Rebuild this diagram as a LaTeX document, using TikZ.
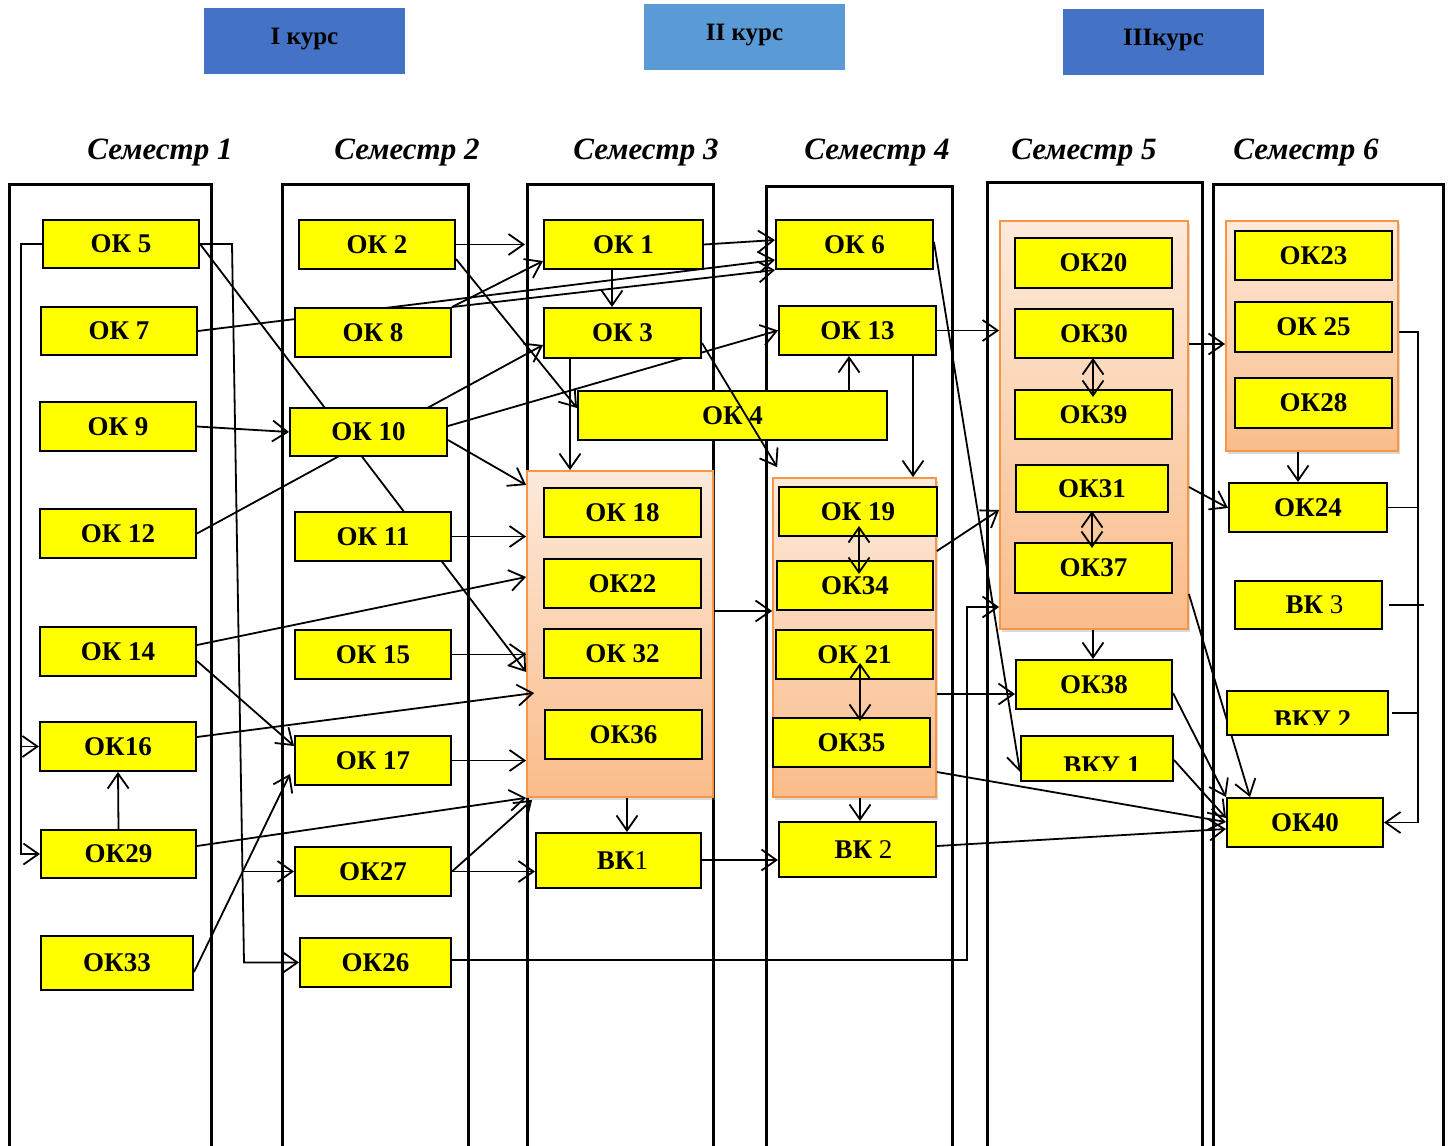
\documentclass[tikz,border=0pt]{standalone}
\usepackage{fontspec}
\setmainfont{Liberation Serif}
\usetikzlibrary{arrows.meta,calc,shadows}
\pgfdeclarelayer{bg}\pgfdeclarelayer{edges}\pgfdeclarelayer{fg}
\pgfsetlayers{bg,edges,main,fg}
\definecolor{yel}{RGB}{255,255,0}
\definecolor{blueA}{RGB}{68,114,196}
\definecolor{blueB}{RGB}{91,155,213}
\definecolor{orB}{RGB}{247,150,70}
\definecolor{orT}{RGB}{253,234,218}
\definecolor{orD}{RGB}{250,188,138}
\tikzset{
  ybox/.style={draw=black, line width=2pt, fill=yel, inner sep=0pt, text=black,
    font=\bfseries\fontsize{27}{29}\selectfont},
  grp/.style={draw=orB, line width=1.8pt, top color=orT, bottom color=orD, inner sep=0pt,
    drop shadow={shadow xshift=2pt, shadow yshift=-3pt, opacity=0.3}},
  kurs/.style={fill=#1, draw=none, inner sep=0pt, text=black,
    font=\bfseries\fontsize{25}{28}\selectfont},
  sem/.style={inner sep=0pt, anchor=base, font=\bfseries\itshape\fontsize{31}{34}\selectfont},
  colline/.style={line width=3pt, line join=miter},
  arr/.style={line width=1.8pt, -{Straight Barb[length=15pt,width=21pt]}},
  darr/.style={line width=1.8pt, {Straight Barb[length=15pt,width=21pt]}-{Straight Barb[length=15pt,width=21pt]}},
  plain/.style={line width=1.8pt}
}
\newcommand\ybx[6]{\node[ybox, minimum width={(#4-#2)*1pt}, minimum height={(#5-#3)*1pt}] (#1) at ({(#2+#4)/2},{(#3+#5)/2}) {#6};}
\newcommand\grpbox[5]{\node[grp, minimum width={(#4-#2)*1pt}, minimum height={(#5-#3)*1pt}] (#1) at ({(#2+#4)/2},{(#3+#5)/2}) {};}
\newcommand\clipbx[6]{\node[ybox, minimum width={(#4-#2)*1pt}, minimum height={(#5-#3)*1pt},
  path picture={\clip (path picture bounding box.north west) rectangle ([yshift=11pt]path picture bounding box.south east);
    \node[draw=none, fill=none, inner sep=0pt, minimum width=0pt, minimum height=0pt, text=black,
      font=\bfseries\fontsize{27}{29}\selectfont] at ([xshift=5pt,yshift=-7pt]path picture bounding box.center) {#6};}]
  (#1) at ({(#2+#4)/2},{(#3+#5)/2}) {};}
\begin{document}
\begin{tikzpicture}[x=1pt,y=-1pt]
\useasboundingbox (0,0) rectangle (1452,1146);
% columns and groups
\begin{pgfonlayer}{bg}
\draw[colline] (9,1146) |- (211,184) -- (211,1146);
\draw[colline] (282,1146) |- (468,184) -- (468,1146);
\draw[colline] (527,1146) |- (713,184) -- (713,1146);
\draw[colline] (766,1146) |- (952,186) -- (952,1146);
\draw[colline] (987,1146) |- (1202,182) -- (1202,1146);
\draw[colline] (1213,1146) |- (1443,184) -- (1443,1146);
\grpbox{g3}{527}{471}{713}{797}
\grpbox{g4}{773}{478}{936}{797}
\grpbox{g5}{1000}{221}{1188}{629}
\grpbox{g6}{1226}{221}{1398}{451}
\end{pgfonlayer}
% course boxes
\node[kurs=blueA, minimum width=201pt, minimum height=66pt] (k1) at (304.5,41) {\raisebox{10pt}{I курс}};
\node[kurs=blueB, minimum width=201pt, minimum height=66pt] (k2) at (744.5,37) {\raisebox{10pt}{II курс}};
\node[kurs=blueA, minimum width=201pt, minimum height=66pt] (k3) at (1163.5,42) {\raisebox{10pt}{IIIкурс}};
% semesters
\node[sem] (s1) at (160,159) {Семестр 1};
\node[sem] (s2) at (407,159) {Семестр 2};
\node[sem] (s3) at (646,159) {Семестр 3};
\node[sem] (s4) at (877,159) {Семестр 4};
\node[sem] (s5) at (1084,159) {Семестр 5};
\node[sem] (s6) at (1306,159) {Семестр 6};
% column 1
\ybx{ok5}{43}{220}{199}{268}{ОК 5}
\ybx{ok7}{41}{307}{197}{355}{ОК 7}
\ybx{ok9}{40}{402}{196}{451}{ОК 9}
\ybx{ok12}{40}{509}{196}{558}{ОК 12}
\ybx{ok14}{40}{627}{196}{676}{ОК 14}
\ybx{ok16}{40}{722}{196}{771}{ОК16}
\ybx{ok29}{41}{830}{196}{878}{ОК29}
\ybx{ok33}{41}{936}{193}{990}{ОК33}
% column 2
\ybx{ok2}{299}{220}{455}{269}{ОК 2}
\ybx{ok8}{295}{308}{451}{357}{ОК 8}
\ybx{ok10}{290}{408}{447}{456}{ОК 10}
\ybx{ok11}{295}{512}{451}{561}{ОК 11}
\ybx{ok15}{295}{630}{451}{679}{ОК 15}
\ybx{ok17}{295}{736}{451}{785}{ОК 17}
\ybx{ok27}{295}{847}{451}{896}{ОК27}
\ybx{ok26}{300}{938}{451}{987}{ОК26}
% column 3
\ybx{ok1}{544}{220}{703}{269}{ОК 1}
\ybx{ok3}{544}{308}{701}{358}{ОК 3}
\ybx{ok4}{578}{391}{887}{440}{ОК 4}
\ybx{ok18}{544}{488}{701}{537}{ОК 18}
\ybx{ok22}{544}{559}{701}{608}{ОК22}
\ybx{ok32}{544}{629}{701}{678}{ОК 32}
\ybx{ok36}{545}{710}{702}{759}{ОК36}
\ybx{vk1}{536}{833}{701}{888}{\hspace*{8pt}ВК\textmd{1}}
% column 4
\ybx{ok6}{776}{220}{933}{269}{ОК 6}
\ybx{ok13}{779}{306}{936}{355}{ОК 13}
\ybx{ok19}{779}{487}{937}{536}{ОК 19}
\ybx{ok34}{777}{561}{933}{610}{ОК34}
\ybx{ok21}{776}{630}{933}{679}{ОК 21}
\ybx{ok35}{773}{718}{930}{767}{ОК35}
\ybx{vk2}{779}{822}{936}{877}{\hspace*{12pt}ВК \textmd{2}}
% column 5
\ybx{ok20}{1015}{238}{1172}{288}{ОК20}
\ybx{ok30}{1015}{309}{1173}{358}{ОК30}
\ybx{ok39}{1015}{390}{1172}{439}{ОК39}
\ybx{ok31}{1016}{465}{1168}{512}{ОК31}
\ybx{ok37}{1015}{543}{1172}{593}{ОК37}
\ybx{ok38}{1016}{660}{1172}{709}{ОК38}
\clipbx{vku1}{1021}{736}{1173}{781}{ВКУ 1}
% column 6
\ybx{ok23}{1235}{231}{1392}{280}{ОК23}
\ybx{ok25}{1235}{302}{1392}{352}{ОК 25}
\ybx{ok28}{1235}{378}{1392}{428}{ОК28}
\ybx{ok24}{1229}{483}{1387}{532}{ОК24}
\ybx{vk3}{1235}{581}{1382}{629}{\hspace*{12pt}ВК \textmd{3}}
\clipbx{vku2}{1227}{691}{1388}{735}{ВКУ 2}
\ybx{ok40}{1227}{798}{1383}{847}{ОК40}
% connectors behind boxes
\begin{pgfonlayer}{edges}
\draw[arr] (ok5.west) -- ++(-21,0) coordinate (b1) |- (ok29.west);
\draw[arr] (b1 |- ok16.west) -- (ok16.west);
\draw[arr] (ok5.east) -- (232,0 |- ok5.east) -- (244,0 |- ok26.west) -- (ok26.west);
\draw[arr] (243,0 |- ok27.west) -- (ok27.west);
\draw[arr] (ok5.east) -- (g3.west |- 0,672);
\draw[arr] (ok7.east) -- (ok6.west |- 0,260);
\draw[arr] (ok8.north east) -- (ok6.south west);
\draw[arr] (ok8.north east) -- (ok1.west |- 0,261);
\draw[arr] (ok9.east) -- (ok10.west);
\draw[arr] (ok12.east) -- (ok3.west |- 0,345);
\draw[arr] (ok10.east |- 0,426) -- (ok13.west);
\draw[arr] (ok10.east |- 0,440) -- (g3.west |- 0,485);
\draw[arr] (ok11.east) -- (g3.west |- ok11.east);
\draw[arr] (ok14.east |- 0,645) -- (g3.west |- 0,577);
\draw[arr] (ok14.east |- 0,661) -- (ok17.west |- 0,746);
\draw[arr] (ok15.east) -- (g3.west |- ok15.east);
\draw[arr] (ok16.east |- 0,737) -- ($(g3.west |- 0,693)+(8,0)$);
\draw[arr] (ok17.east) -- (g3.west |- ok17.east);
\draw[arr] (ok29.north) -- (ok16.south);
\draw[arr] (ok29.east |- 0,846) -- (g3.south west);
\draw[arr] (ok33.east |- 0,972) -- ($(ok17.west |- 0,774)+(-4,0)$);
\draw[arr] (ok27.east) -- ($(g3.south west)+(6,2)$);
\draw[arr] (ok27.east) -- (vk1.west |- ok27.east);
\draw[arr] (ok26.east |- 0,960) -| (967,607) -- (g5.west |- 0,607);
\draw[arr] (ok2.east) -- ($(ok1.west)+(-18,0)$);
\draw[arr] (ok2.east |- 0,259) -- (ok4.west |- 0,408);
\draw[arr] (ok1.east) -- (ok6.west |- 0,240);
\draw[arr] (612,0 |- ok1.south) -- (612,0 |- ok3.north);
\draw[arr] (570,0 |- ok3.south) -- (570,0 |- g3.north);
\draw[arr] (849,0 |- ok4.north) -- (849,0 |- ok13.south);
\draw[arr] (913,0 |- ok13.south) -- (913,0 |- g4.north);
\draw[arr] (ok13.east) -- (g5.west |- ok13.east);
\draw[arr] (ok6.east |- 0,242) -- (vku1.west |- 0,772);
\draw[arr] (g3.east |- 0,611) -- (g4.west |- 0,611);
\draw[arr] (627,0 |- g3.south) -- (627,0 |- vk1.north);
\draw[arr] (vk1.east |- 0,860) -- (vk2.west |- 0,860);
\draw[arr] (860,0 |- g4.south) -- (860,0 |- vk2.north);
\draw[arr] (g4.east |- 0,551) -- (g5.west |- 0,510);
\draw[arr] (g4.east |- 0,694) -- (ok38.west |- 0,694);
\draw[arr] (g4.east |- 0,772) -- (ok40.west |- 0,822);
\draw[arr] (vk2.east |- 0,846) -- (ok40.west |- 0,829);
\draw[arr] (g5.east |- 0,344) -- (g6.west |- 0,344);
\draw[arr] (1298,0 |- g6.south) -- (1298,0 |- ok24.north);
\draw[arr] (g5.east |- 0,487) -- (ok24.west |- 0,508);
\draw[arr] (1093,0 |- g5.south) -- (1093,0 |- ok38.north);
\draw[arr] (g5.east |- 0,594) -- (1250,0 |- ok40.north);
\draw[arr] (ok38.east |- 0,693) -- (ok40.north west);
\draw[arr] (vku1.east |- 0,760) -- (ok40.west |- 0,818);
\draw[arr] (g6.east |- 0,332) -| (1418,0 |- ok40.east) -- (ok40.east);
\draw[plain] (ok24.east) -- (1418,0 |- ok24.east);
\draw[plain] ($(vk3.east)+(6,0)$) -- (1424,0 |- vk3.east);
\draw[plain] ($(vku2.east)+(3,0)$) -- (1418,0 |- vku2.east);
\end{pgfonlayer}
% connectors in front of boxes
\begin{pgfonlayer}{fg}
\draw[arr] (ok3.east |- 0,343) -- ($(g4.north west)+(5,-10)$);
\draw[darr] ($(859,0 |- ok19.south)+(0,-11)$) -- ($(859,0 |- ok34.north)+(0,14)$);
\draw[darr] ($(860,0 |- ok21.south)+(0,-17)$) -- ($(860,0 |- ok35.north)+(0,4)$);
\draw[darr] ($(1093,0 |- ok30.south)+(0,-1)$) -- ($(1093,0 |- ok39.north)+(0,8)$);
\draw[darr] ($(1092,0 |- ok31.south)+(0,-2)$) -- ($(1092,0 |- ok37.north)+(0,6)$);
\end{pgfonlayer}
\end{tikzpicture}
\end{document}
